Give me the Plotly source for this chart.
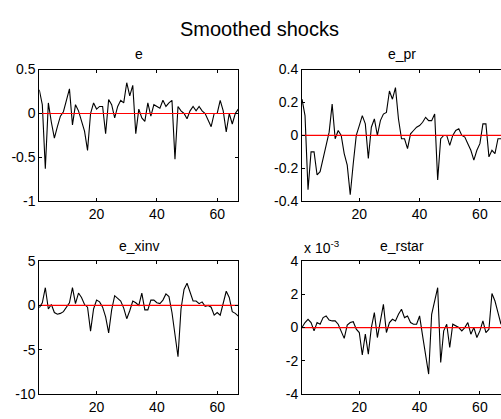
import plotly.graph_objects as go

# Periods
steps = list(range(1, 68))

# Smoothed shock series
e = [0.27, 0.10, -0.63, 0.12, -0.10, -0.28, -0.15, -0.03, 0.02, 0.15,
     0.28, -0.13, 0.10, 0.03, -0.10, -0.20, -0.42, 0.00, 0.12, 0.05,
     0.08, 0.08, -0.23, 0.16, 0.10, -0.05, 0.08, 0.15, 0.12, 0.35,
     0.20, 0.32, -0.23, 0.05, -0.05, -0.09, 0.12, -0.03, 0.10, 0.08,
     0.06, 0.15, 0.08, 0.12, 0.15, -0.52, 0.08, 0.03, 0.00, -0.06,
     0.03, 0.08, 0.03, 0.08, 0.03, 0.00, -0.08, -0.15, 0.00, 0.00,
     0.15, 0.03, -0.21, 0.00, -0.12, 0.00, 0.05]

e_pr = [0.22, 0.12, -0.33, -0.10, -0.10, -0.24, -0.22, -0.13, -0.06, 0.02,
        0.19, -0.02, 0.03, 0.00, -0.11, -0.18, -0.36, -0.17, 0.00, 0.06,
        0.12, 0.07, -0.14, 0.05, 0.10, 0.00, 0.09, 0.13, 0.14, 0.27,
        0.22, 0.29, 0.10, -0.02, -0.02, -0.08, 0.01, 0.03, 0.05, 0.06,
        0.08, 0.11, 0.09, 0.09, 0.13, -0.27, -0.02, 0.00, 0.00, -0.06,
        0.00, 0.03, 0.04, 0.00, -0.01, -0.05, -0.09, -0.15, -0.09, -0.05,
        0.07, 0.07, -0.13, -0.09, -0.11, -0.02, -0.02]

e_xinv = [-0.25, 0.3, 2.0, -0.4, 0.1, -0.8, -1.0, -0.9, -0.7, -0.2,
          0.3, 2.0, 0.2, 1.4, 0.9, 0.1, -0.2, -2.9, -0.4, 0.6,
          0.4, -0.2, -1.3, -3.1, -0.5, 1.1, 0.8, 0.5, -0.3, -1.5,
          -0.6, 0.5, 0.3, 0.0, 1.4, -0.5, -0.5, 0.6, 0.6, 0.3,
          0.2, 0.6, 1.3, 1.0, -0.8, -3.5, -5.8, -0.4, 1.8, 2.5,
          1.4, 0.5, 0.5, 0.2, 0.4, -0.1, 0.0, -0.2, -1.1, -0.8,
          -1.1, 0.4, 1.6, 0.9, -0.7, -0.9, -1.2]

# e_rstar in units of 1e-3
e_rstar_e3 = [0.0, 0.3, 0.5, 0.3, -0.2, 0.3, 0.2, 0.6, 0.7, 0.45,
              0.4, 0.4, 0.2, -0.2, -0.65, 0.15, 0.3, 0.35, -0.1, -0.3,
              -1.65, -0.4, -1.6, 0.0, 0.9, -0.6, 0.5, 1.4, -0.3, 0.3,
              0.5, 0.4, 0.8, 1.1, 0.6, 0.7, 0.3, 0.2, 0.2, 0.7,
              -0.5, -1.6, -2.8, 0.8, 1.7, 2.4, -2.1, -0.2, 0.2, -1.2,
              0.2, 0.1, 0.0, -0.2, 0.0, 0.3, -0.4, 0.0, -0.6, -0.2,
              0.4, -0.3, -0.1, 2.05, 1.6, 0.9, 0.2]
e_rstar = [v * 1e-3 for v in e_rstar_e3]

names = ["e", "e_pr", "e_xinv", "e_rstar"]
series = [e, e_pr, e_xinv, e_rstar]

x_ticks = [20, 40, 60]
x_tick_text = ["20", "40", "60"]

y_ticks = [
    [-1, -0.5, 0, 0.5],
    [-0.4, -0.2, 0, 0.2, 0.4],
    [-10, -5, 0, 5],
    [-4e-3, -2e-3, 0, 2e-3, 4e-3],
]
y_tick_text = [
    ["-1", "-0.5", "0", "0.5"],
    ["-0.4", "-0.2", "0", "0.2", "0.4"],
    ["-10", "-5", "0", "5"],
    ["-4", "-2", "0", "2", "4"],
]

W, H = 501, 419
FONT = "Liberation Sans, Arial, sans-serif"
TICK_SIZE = 14

# panel boxes in pixels: (left, right, top, bottom)
boxes = [
    (39.3, 238.3, 64, 201),
    (302, 501, 64, 201),
    (39.3, 238.3, 263.2, 401.3),
    (302, 501, 263.2, 401.3),
]
title_y = [48, 48, 247, 247]

fig = go.Figure()
layout = dict(
    width=W, height=H, autosize=False,
    margin=dict(l=0, r=0, t=0, b=0),
    paper_bgcolor="white", plot_bgcolor="white",
    showlegend=False,
    font=dict(family=FONT, size=TICK_SIZE, color="black"),
)

axis_common = dict(showgrid=False, zeroline=False, showline=True,
                   linecolor="black", linewidth=1,
                   ticks="inside", ticklen=3, tickcolor="black",
                   tickfont=dict(family=FONT, size=TICK_SIZE, color="black"))

annotations = []
for k, (name, ys) in enumerate(zip(names, series)):
    xa = "x" if k == 0 else f"x{k+1}"
    ya = "y" if k == 0 else f"y{k+1}"
    l, r, t, b = boxes[k]
    xdom = [l / W, min(r / W, 1.0)]
    ydom = [1 - b / H, 1 - t / H]
    right_col = k in (1, 3)
    fig.add_trace(go.Scatter(x=steps, y=ys, mode="lines",
                             line=dict(color="black", width=1.1),
                             xaxis=xa, yaxis=ya, hoverinfo="skip"))
    fig.add_trace(go.Scatter(x=[steps[0], steps[-1]], y=[0, 0], mode="lines",
                             line=dict(color="rgb(255,0,0)", width=1.2),
                             xaxis=xa, yaxis=ya, hoverinfo="skip"))
    xkey = "xaxis" if k == 0 else f"xaxis{k+1}"
    ykey = "yaxis" if k == 0 else f"yaxis{k+1}"
    layout[xkey] = dict(axis_common, domain=xdom, anchor=ya, mirror="ticks",
                        range=[steps[0], steps[-1]],
                        tickmode="array", tickvals=x_ticks, ticktext=x_tick_text)
    yv = y_ticks[k]
    # right column runs to the page edge, so its right border falls outside
    layout[ykey] = dict(axis_common, domain=ydom, anchor=xa,
                        mirror=False if right_col else "ticks",
                        range=[yv[0], yv[-1]],
                        tickmode="array", tickvals=yv, ticktext=y_tick_text[k])
    annotations.append(dict(text=name, x=(l + r) / 2 / W, y=1 - title_y[k] / H,
                            xref="paper", yref="paper", xanchor="center",
                            yanchor="middle", showarrow=False,
                            font=dict(family=FONT, size=TICK_SIZE, color="black")))

# exponent label for e_rstar
annotations.append(dict(text="x 10<sup>-3</sup>", x=302 / W, y=1 - 249 / H,
                        xref="paper", yref="paper", xanchor="left",
                        yanchor="middle", showarrow=False,
                        font=dict(family=FONT, size=TICK_SIZE, color="black")))

# figure title
annotations.append(dict(text="Smoothed shocks", x=259 / W, y=1 - 22 / H,
                        xref="paper", yref="paper", xanchor="center",
                        yanchor="middle", showarrow=False,
                        font=dict(family=FONT, size=20, color="black")))

layout["annotations"] = annotations
fig.update_layout(**layout)
fig.write_html("out.html")
